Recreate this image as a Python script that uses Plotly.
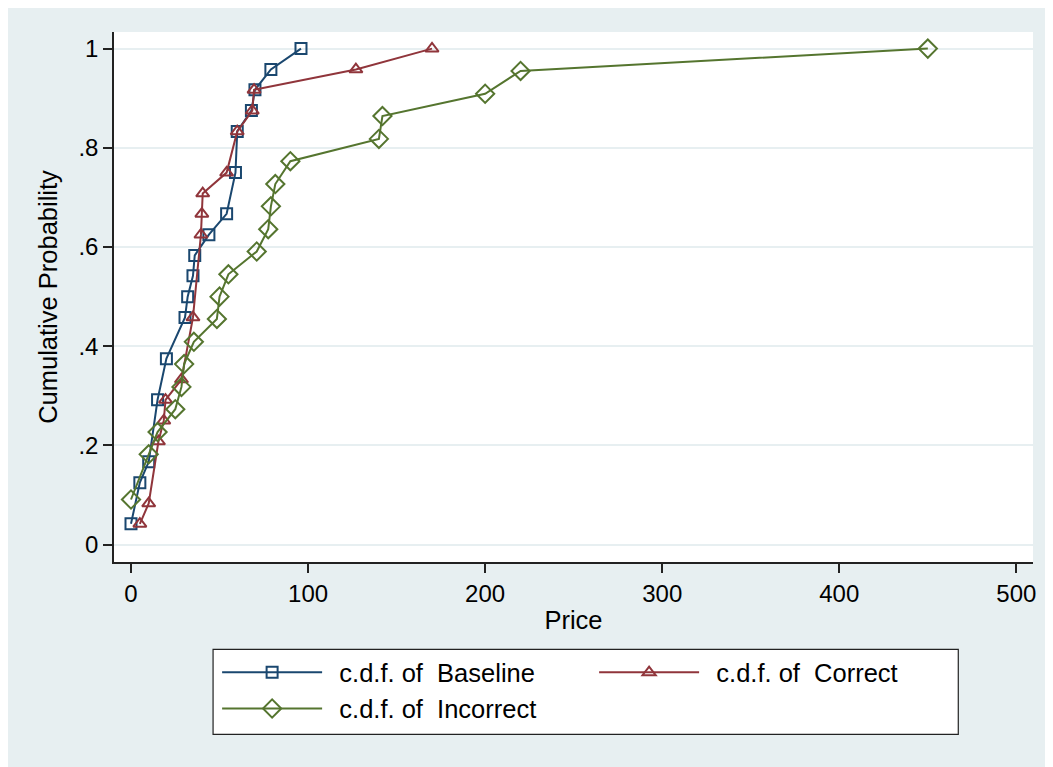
import plotly.graph_objects as go

# Price values and cumulative probabilities
baseline_price = [0, 5, 10, 15, 20, 30.5, 32, 35, 36, 44, 54, 59, 60, 68, 70, 79, 96]
baseline_cdf = [0.042, 0.125, 0.167, 0.292, 0.375, 0.458, 0.5, 0.542, 0.583, 0.625,
                0.667, 0.75, 0.833, 0.875, 0.917, 0.958, 1.0]

correct_price = [5, 10, 15.5, 18.5, 19.5, 28.5, 35, 39.5, 40, 40.5, 54, 60, 68.5, 69.5, 127, 170]
correct_cdf = [0.042, 0.083, 0.208, 0.25, 0.292, 0.333, 0.458, 0.625, 0.667, 0.708,
               0.75, 0.833, 0.875, 0.917, 0.958, 1.0]

incorrect_price = [0, 10, 15, 25, 28.5, 30, 35.5, 48.5, 50, 55, 71, 77.5, 79, 81.5,
                   90, 140, 142, 200, 220, 450]
incorrect_cdf = [0.091, 0.182, 0.227, 0.273, 0.318, 0.364, 0.409, 0.455, 0.5, 0.545,
                 0.591, 0.636, 0.682, 0.727, 0.773, 0.818, 0.864, 0.909, 0.955, 1.0]

x_ticks = [0, 100, 200, 300, 400, 500]
y_ticks = [0, 0.2, 0.4, 0.6, 0.8, 1.0]
y_tick_labels = ["0", ".2", ".4", ".6", ".8", "1"]

NAVY = "#1a476f"
MAROON = "#90353b"
GREEN = "#55752f"
BG = "#e7eff1"
GRID = "#e7eff1"
AXIS = "#222222"
FONT = "Liberation Sans, Arial, sans-serif"
NB = "\u00a0"
LEAD = "\u00a0\u2009"

fig = go.Figure()
fig.add_trace(go.Scatter(
    x=baseline_price, y=baseline_cdf, mode="lines+markers",
    name=f"{LEAD}c.d.f. of{NB}{NB}Baseline",
    line=dict(color=NAVY, width=2),
    marker=dict(symbol="square-open", size=11, color=NAVY, line=dict(width=2, color=NAVY)),
))
fig.add_trace(go.Scatter(
    x=correct_price, y=correct_cdf, mode="lines+markers",
    name=f"{LEAD}c.d.f. of{NB}{NB}Correct",
    line=dict(color=MAROON, width=2),
    marker=dict(symbol="triangle-up-open", size=11.5, color=MAROON, line=dict(width=2, color=MAROON)),
))
fig.add_trace(go.Scatter(
    x=incorrect_price, y=incorrect_cdf, mode="lines+markers",
    name=f"{LEAD}c.d.f. of{NB}{NB}Incorrect",
    line=dict(color=GREEN, width=2),
    marker=dict(symbol="diamond-open", size=14, color=GREEN, line=dict(width=2, color=GREEN)),
))

# legend frame (paper coordinates)
fig.add_shape(type="rect", xref="paper", yref="paper",
              x0=0.1078, x1=0.9187, y0=-0.3251, y1=-0.1647,
              fillcolor="white", line=dict(color=AXIS, width=1.2), layer="below")

fig.update_layout(
    width=1045, height=759,
    paper_bgcolor=BG, plot_bgcolor="white",
    font=dict(family=FONT, size=24, color="black"),
    margin=dict(l=106, r=20, t=24, b=205),
    showlegend=True,
    legend=dict(
        orientation="h", x=0.1122, y=-0.1647, xanchor="left", yanchor="top",
        bgcolor="rgba(0,0,0,0)", borderwidth=0,
        font=dict(family=FONT, size=25.5, color="black"),
        itemwidth=100, entrywidth=262, entrywidthmode="pixels",
        traceorder="normal",
    ),
    xaxis=dict(
        range=[-9.6, 509.4], tickvals=x_ticks, ticks="outside", ticklen=9,
        tickcolor=AXIS, tickwidth=1.5, showline=True, linecolor=AXIS, linewidth=1.5,
        showgrid=False, zeroline=False,
        title=dict(text="Price", standoff=6, font=dict(size=25.5)),
        tickfont=dict(size=24),
    ),
    yaxis=dict(
        range=[-0.035, 1.0335], tickvals=y_ticks, ticktext=y_tick_labels, ticks="outside",
        ticklen=9, tickcolor=AXIS, tickwidth=1.5, showline=True, linecolor=AXIS,
        linewidth=1.5, showgrid=True, gridcolor=GRID, gridwidth=2, zeroline=False,
        title=dict(text="Cumulative Probability", standoff=14, font=dict(size=25.5)),
        tickfont=dict(size=24),
    ),
)

fig.write_html("out.html")
